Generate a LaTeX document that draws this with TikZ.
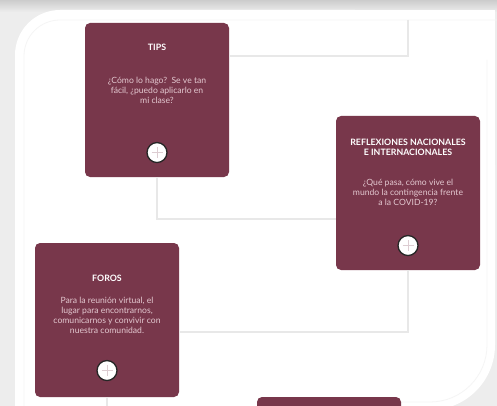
\documentclass[tikz,border=0pt]{standalone}
\usepackage{fontspec}
\setmainfont{Lato}
\usetikzlibrary{positioning}
\definecolor{vino}{HTML}{78374B}
\definecolor{rosa}{HTML}{E3C8D0}
\newcommand{\Mas}[1]{\draw[cross] ([xshift=-5.5pt]#1.center) -- ([xshift=5.5pt]#1.center) ([yshift=-5.5pt]#1.center) -- ([yshift=5.5pt]#1.center);}

\begin{document}
\begin{tikzpicture}[x=1pt,y=-1pt,
    card/.style={rectangle,fill=vino,rounded corners=5pt,minimum width=144pt,minimum height=154pt,inner sep=0pt},
    head/.style={text=white,font=\bfseries\fontsize{8.8}{10}\selectfont,align=center},
    body/.style={text=rosa,font=\fontsize{8.6}{10}\selectfont,align=center},
    link/.style={draw=gray!18,line width=1.3pt},
    faint/.style={draw=gray!8,line width=0.8pt},
    more/.style={circle,draw=black!85,line width=1.3pt,fill=white,minimum size=20pt,inner sep=0pt},
    cross/.style={draw=vino!25,line width=0.7pt}]
    \useasboundingbox (0,0) rectangle (497,406);
    \clip (0,0) rectangle (497,406);

    % Background and panel
    \fill[gray!14] (0,0) rectangle (497,406);
    \shade[top color=gray!40,bottom color=gray!14] (0,0) rectangle (497,12);
    \fill[white,rounded corners=45pt] (15,10) rectangle (400,300);
    \fill[white,rounded corners=65pt] (100,100) rectangle (495,410);
    \fill[white] (300,10) rectangle (495,200);
    \fill[white] (15,200) rectangle (200,410);
    \draw[faint,rounded corners=36pt] (24,420) -- (24,20) -- (497,20);
    \draw[faint,rounded corners=57pt] (487,60) -- (487,402) -- (380,402);

    % Cards
    \node[card] (tips) at (157,100) {};
    \node[card] (reflex) at (408,193) {};
    \node[card] (foros) at (107,320) {};
    \node[card] (next) at (329,474) {};

    % Connectors
    \coordinate (k0) at (408,20);
    \coordinate (k1) at (408,56);
    \draw[link] (k0) -- (k1) -- (k1 -| tips.east);
    \coordinate (k2) at (157,219);
    \draw[link] (tips.south) -- (k2) -- (k2 -| reflex.west);
    \coordinate (k3) at (408,332);
    \draw[link] (reflex.south) -- (k3) -- (k3 -| foros.east);
    \coordinate (k4) at (107,410);
    \draw[link] (foros.south) -- (k4);

    % Tips
    \node[head] (tipsT) at (157,47) {TIPS};
    \node[body] (tipsB) at (157,90) {¿Cómo lo hago?\ \ Se ve tan\\fácil, ¿puedo aplicarlo en\\mi clase?};
    \node[more,above=14pt of tips.south] (tipsM) {};
    \Mas{tipsM}

    % Reflexiones
    \node[head] (reflexT) at (408,147) {REFLEXIONES NACIONALES\\E INTERNACIONALES};
    \node[body] (reflexB) at (408,192) {¿Qué pasa, cómo vive el\\mundo la contingencia frente\\a la COVID-19?};
    \node[more,above=14pt of reflex.south] (reflexM) {};
    \Mas{reflexM}

    % Foros
    \node[head] (forosT) at (107,278) {FOROS};
    \node[body] (forosB) at (107,315) {Para la reunión virtual, el\\lugar para encontrarnos,\\comunicarnos y convivir con\\nuestra comunidad.};
    \node[more,above=16pt of foros.south] (forosM) {};
    \Mas{forosM}
\end{tikzpicture}
\end{document}
